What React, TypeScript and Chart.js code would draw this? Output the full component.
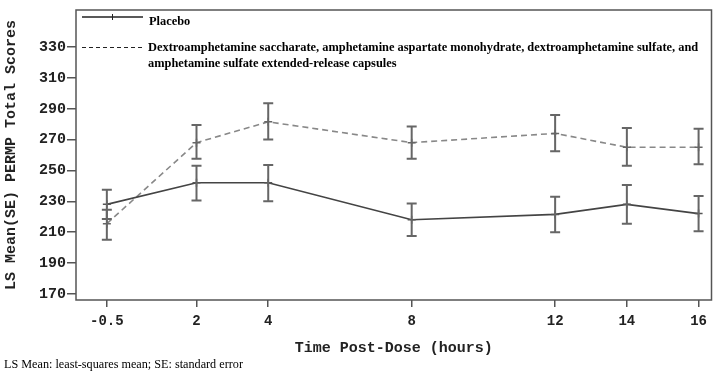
import React, { useEffect, useRef } from "react";
import { Chart, registerables } from "chart.js";
Chart.register(...registerables);

const timePoints = [-0.5, 2, 4, 8, 12, 14, 16];
const placeboMean = [228, 242, 242, 218, 221.5, 228, 222];
const placeboLow = [218.5, 230.5, 230, 207.5, 210, 215.5, 210.5];
const placeboHigh = [237.5, 253, 253.5, 228.5, 233, 240.5, 233.5];
const activeMean = [215.5, 268, 281.5, 268, 274, 265, 265];
const activeLow = [205, 257.5, 270, 257.5, 262.5, 253, 254];
const activeHigh = [224.5, 279.5, 293.5, 278.5, 286, 277.5, 277];
const yTicks = [170, 190, 210, 230, 250, 270, 290, 310, 330];
const xTicks = [-0.5, 2, 4, 8, 12, 14, 16];

const placeboLabel = "Placebo";
const activeLabel = [
  "Dextroamphetamine saccharate, amphetamine aspartate monohydrate, dextroamphetamine sulfate, and",
  "amphetamine sulfate extended-release capsules",
];
const yTitle = "LS Mean(SE) PERMP Total Scores";
const xTitle = "Time Post-Dose (hours)";
const footnote = "LS Mean: least-squares mean; SE: standard error";

const MONO = "'Liberation Mono', 'Courier New', monospace";
const SERIF = "'Liberation Serif', 'Times New Roman', serif";

const errorBars = {
  id: "errorBars",
  afterDatasetsDraw(chart: any) {
    const ctx = chart.ctx;
    const xs = chart.scales.x;
    const ys = chart.scales.y;
    const sets = [
      { lo: placeboLow, hi: placeboHigh },
      { lo: activeLow, hi: activeHigh },
    ];
    ctx.save();
    ctx.strokeStyle = "#666";
    ctx.lineWidth = 2;
    sets.forEach((s) => {
      timePoints.forEach((t, i) => {
        const x = xs.getPixelForValue(t);
        const y1 = ys.getPixelForValue(s.lo[i]);
        const y2 = ys.getPixelForValue(s.hi[i]);
        ctx.beginPath();
        ctx.moveTo(x, y1);
        ctx.lineTo(x, y2);
        ctx.moveTo(x - 5, y1);
        ctx.lineTo(x + 5, y1);
        ctx.moveTo(x - 5, y2);
        ctx.lineTo(x + 5, y2);
        ctx.stroke();
      });
    });
    ctx.restore();
  },
  afterDraw(chart: any) {
    const ctx = chart.ctx;
    const a = chart.chartArea;
    ctx.save();
    ctx.strokeStyle = "#555";
    ctx.lineWidth = 1.5;
    ctx.strokeRect(a.left, a.top, a.right - a.left, a.bottom - a.top);
    // legend
    const lx0 = a.left + 6;
    const lx1 = a.left + 67;
    ctx.strokeStyle = "#222";
    ctx.lineWidth = 1.3;
    ctx.beginPath();
    ctx.moveTo(lx0, 17);
    ctx.lineTo(lx1, 17);
    ctx.stroke();
    ctx.lineWidth = 1;
    ctx.beginPath();
    ctx.moveTo((lx0 + lx1) / 2, 14);
    ctx.lineTo((lx0 + lx1) / 2, 20);
    ctx.stroke();
    ctx.setLineDash([4, 3]);
    ctx.lineWidth = 1.2;
    ctx.beginPath();
    ctx.moveTo(lx0, 47.5);
    ctx.lineTo(lx1, 47.5);
    ctx.stroke();
    ctx.setLineDash([]);
    ctx.fillStyle = "#000";
    ctx.font = "bold 12.4px " + SERIF;
    ctx.textBaseline = "middle";
    ctx.textAlign = "left";
    ctx.fillText(placeboLabel, 149, 22);
    ctx.fillText(activeLabel[0], 148, 48);
    ctx.fillText(activeLabel[1], 148, 64);
    ctx.restore();
  },
};

export default function App() {
  const ref = useRef<HTMLCanvasElement>(null);
  useEffect(() => {
    document.body.style.margin = "0";
    const chart = new Chart(ref.current as HTMLCanvasElement, {
      type: "line",
      data: {
        datasets: [
          {
            label: placeboLabel,
            data: timePoints.map((t, i) => ({ x: t, y: placeboMean[i] })),
            borderColor: "#444",
            borderWidth: 1.6,
            pointStyle: "cross",
            pointRadius: 4,
            pointBorderColor: "#555",
            pointBorderWidth: 1.5,
            tension: 0,
          },
          {
            label: activeLabel.join(" "),
            data: timePoints.map((t, i) => ({ x: t, y: activeMean[i] })),
            borderColor: "#888",
            borderWidth: 1.6,
            borderDash: [6, 4],
            pointStyle: "cross",
            pointRadius: 4,
            pointBorderColor: "#666",
            pointBorderWidth: 1.5,
            tension: 0,
          },
        ],
      },
      options: {
        responsive: false,
        animation: false,
        layout: { padding: { top: 8, right: 5, left: 0, bottom: 0 } },
        plugins: { legend: { display: false }, tooltip: { enabled: false } },
        scales: {
          x: {
            type: "linear",
            min: -1.36,
            max: 16.36,
            afterBuildTicks: (s: any) => {
              s.ticks = xTicks.map((v) => ({ value: v }));
            },
            afterFit: (s: any) => {
              s.height = 73;
            },
            grid: { drawOnChartArea: false, tickLength: 7, color: "#555", lineWidth: 1.5 },
            border: { display: false },
            ticks: {
              color: "#222",
              padding: 6,
              maxRotation: 0,
              autoSkip: false,
              font: { family: MONO, size: 14, weight: "bold" },
              callback: (v: any) => String(v),
            },
            title: {
              display: true,
              text: xTitle,
              color: "#222",
              padding: { top: 0, bottom: 16 },
              font: { family: MONO, size: 15, weight: "bold" },
            },
          },
          y: {
            type: "linear",
            min: 166,
            max: 354,
            afterBuildTicks: (s: any) => {
              s.ticks = yTicks.map((v) => ({ value: v }));
            },
            afterFit: (s: any) => {
              s.width = 76;
            },
            grid: { drawOnChartArea: false, tickLength: 9, color: "#555", lineWidth: 1.5 },
            border: { display: false },
            ticks: {
              color: "#222",
              padding: 1,
              autoSkip: false,
              font: { family: MONO, size: 15, weight: "bold" },
            },
            title: {
              display: true,
              text: yTitle,
              color: "#222",
              padding: { top: 2, bottom: 0 },
              font: { family: MONO, size: 15, weight: "bold" },
            },
          },
        },
      },
      plugins: [errorBars],
    } as any);
    return () => chart.destroy();
  }, []);
  return (
    <div style={{ position: "relative", width: 717, height: 373, background: "#fff" }}>
      <canvas ref={ref} width={717} height={373} style={{ width: 717, height: 373, display: "block" }} />
      <div
        style={{
          position: "absolute",
          left: 4,
          top: 357,
          fontFamily: SERIF,
          fontSize: 12.2,
          lineHeight: "14px",
          color: "#000",
          whiteSpace: "nowrap",
        }}
      >
        {footnote}
      </div>
    </div>
  );
}
